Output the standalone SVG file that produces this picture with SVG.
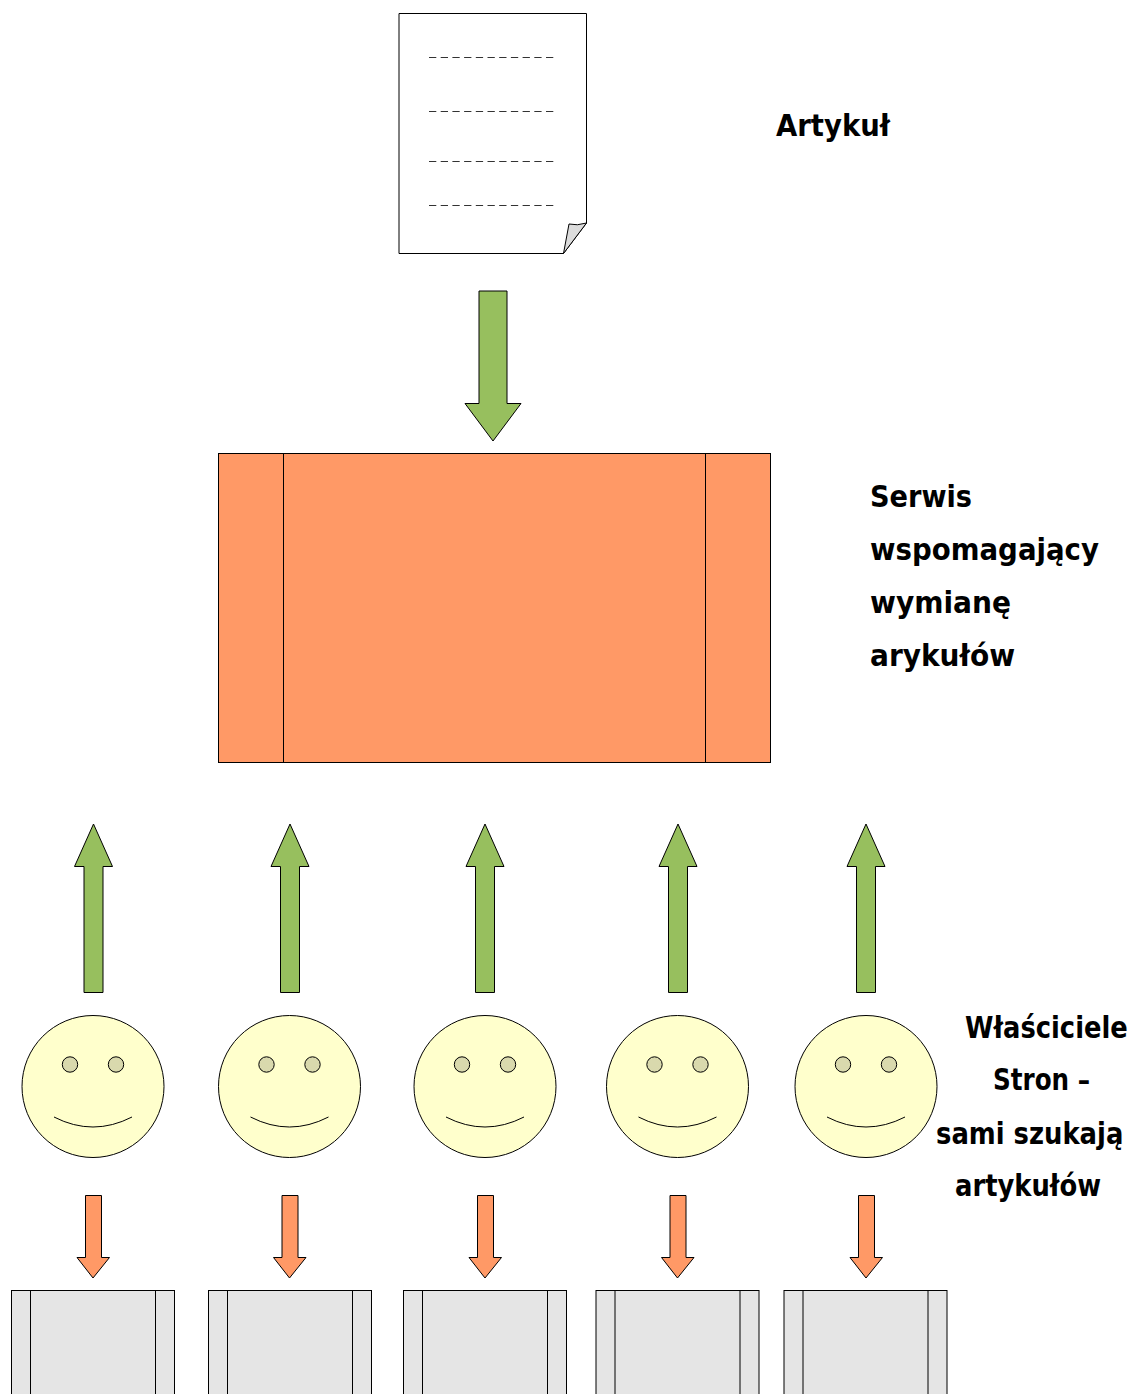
<svg xmlns="http://www.w3.org/2000/svg" width="1133" height="1394" viewBox="0 0 1133 1394">
<style>
.s{stroke:#000;stroke-width:1;stroke-linejoin:miter}
.t{font-family:"DejaVu Sans",Verdana,sans-serif;font-weight:700;font-size:31px;fill:#000}
.d{fill:none;stroke:#333;stroke-width:1;stroke-dasharray:7.3 4.4}
.g{fill:#97bf5e}.o{fill:#ff9966}.l{fill:#ffffcc}.e{fill:#d9d9ad}.b{fill:#e5e5e5}
</style>
<defs>
<g id="up"><path class="s g" d="M84 992.500V866.500H74.500L93.500 824L112.500 866.500H103V992.500Z"/></g>
<g id="face">
<circle class="s l" cx="93" cy="1086.500" r="71"/>
<circle class="s e" cx="70" cy="1064.500" r="7.700"/>
<circle class="s e" cx="116" cy="1064.500" r="7.700"/>
<path class="s" fill="none" d="M54 1117Q93 1137 132 1117"/>
</g>
<g id="down"><path class="s o" d="M85.500 1195.500H101.500V1257.500H109.500L93 1278L77 1257.500H85.500Z"/></g>
<g id="site">
<rect class="s b" x="11.500" y="1290.500" width="163" height="120"/>
<path class="s" d="M30.500 1290.500V1400M155.500 1290.500V1400"/>
</g>
</defs>
<g id="article">
<path class="s" fill="#fff" d="M399 13.500H586.500V223L563.500 253.500H399Z"/>
<path class="s" fill="#dcdcdc" d="M563.500 253.500L569 224Q577 226 586.500 223Z"/>
<path class="d" d="M429 57.500H554M429 111.500H554M429 161.500H554M429 205.500H554"/>
</g>
<g id="article-label"><text class="t" x="776" y="136" textLength="114" lengthAdjust="spacingAndGlyphs">Artykuł</text></g>
<g id="service">
<rect class="s o" x="218.500" y="453.500" width="552" height="309"/>
<path class="s" fill="none" d="M283.500 453.500V762.500M705.500 453.500V762.500"/>
</g>
<g id="service-label">
<text class="t" x="870" y="507" textLength="102" lengthAdjust="spacingAndGlyphs">Serwis</text>
<text class="t" x="870" y="560" textLength="229" lengthAdjust="spacingAndGlyphs">wspomagający</text>
<text class="t" x="870" y="613" textLength="141" lengthAdjust="spacingAndGlyphs">wymianę</text>
<text class="t" x="870" y="666" textLength="145" lengthAdjust="spacingAndGlyphs">arykułów</text>
</g>
<g id="owners-label">
<text class="t" transform="translate(965 1038) scale(.832 1)">Właściciele</text>
<text class="t" x="993" y="1090" textLength="97" lengthAdjust="spacingAndGlyphs">Stron –</text>
<text class="t" transform="translate(936 1144) scale(.834 1)">sami szukają</text>
<text class="t" x="955" y="1196" textLength="146" lengthAdjust="spacingAndGlyphs">artykułów</text>
</g>
<g id="face1"><use href="#face"/></g>
<g id="face2"><use href="#face" x="196.500"/></g>
<g id="face3"><use href="#face" x="392"/></g>
<g id="face4"><use href="#face" x="584.500"/></g>
<g id="face5"><use href="#face" x="773"/></g>
<g id="site1"><use href="#site"/></g>
<g id="site2"><use href="#site" x="197"/></g>
<g id="site3"><use href="#site" x="392"/></g>
<g id="site4"><use href="#site" x="584.500"/></g>
<g id="site5"><use href="#site" x="772.500"/></g>
<g id="connectors">
<path class="s g" d="M479 291H507V403.500H521L493 441L465 403.500H479Z"/>
<use href="#up"/><use href="#up" x="196.500"/><use href="#up" x="391.500"/><use href="#up" x="584.500"/><use href="#up" x="772.500"/>
<use href="#down"/><use href="#down" x="196.500"/><use href="#down" x="392"/><use href="#down" x="584.500"/><use href="#down" x="773"/>
</g>
</svg>
